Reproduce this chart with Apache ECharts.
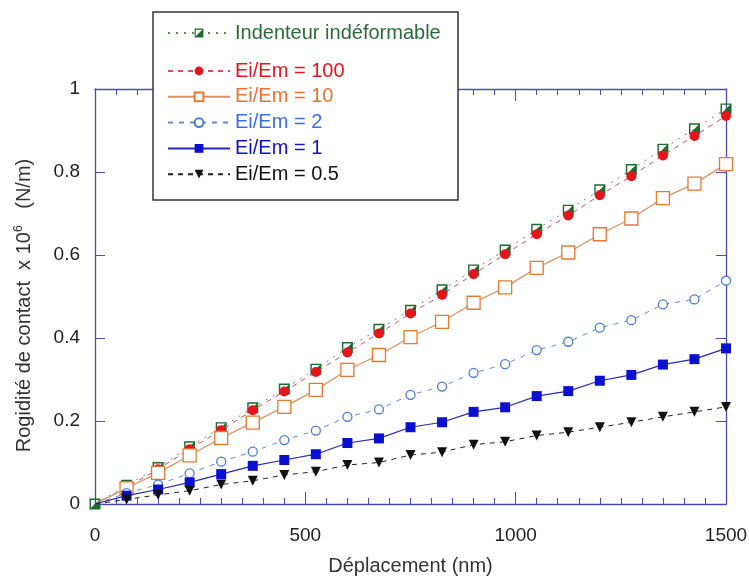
<!DOCTYPE html>
<html><head><meta charset="utf-8">
<script src="https://cdn.jsdelivr.net/npm/echarts@6/dist/echarts.min.js"></script>
<style>html,body{margin:0;padding:0;background:#fff}#c{width:749px;height:576px}</style>
</head><body><div id="c"></div>
<script>
const xValues = [0,75,150,225,300,375,450,525,600,675,750,825,900,975,1050,1125,1200,1275,1350,1425,1500];
const indenteur = [0,0.045,0.088,0.138,0.184,0.232,0.277,0.325,0.377,0.421,0.467,0.516,0.564,0.612,0.662,0.708,0.757,0.806,0.855,0.904,0.952];
const ratio100 = [0,0.040,0.084,0.132,0.178,0.226,0.271,0.318,0.365,0.411,0.459,0.504,0.554,0.602,0.650,0.695,0.744,0.790,0.840,0.887,0.935];
const ratio10 = [0,0.038,0.075,0.117,0.159,0.196,0.234,0.275,0.323,0.359,0.402,0.439,0.485,0.522,0.569,0.606,0.650,0.688,0.737,0.772,0.819];
const ratio2 = [0,0.026,0.047,0.074,0.102,0.126,0.154,0.177,0.210,0.228,0.263,0.283,0.316,0.337,0.371,0.391,0.425,0.443,0.481,0.493,0.538];
const ratio1 = [0,0.020,0.035,0.052,0.072,0.092,0.106,0.120,0.147,0.158,0.185,0.197,0.222,0.233,0.260,0.272,0.297,0.311,0.336,0.349,0.375];
const ratio05 = [0,0.011,0.022,0.032,0.047,0.056,0.070,0.078,0.094,0.100,0.118,0.125,0.143,0.150,0.165,0.173,0.185,0.197,0.210,0.222,0.234];
const names = ['Indenteur indéformable','Ei/Em = 100','Ei/Em = 10','Ei/Em = 2','Ei/Em = 1','Ei/Em = 0.5'];
const xTicks = [0,500,1000,1500];
const yTicks = [0,0.2,0.4,0.6,0.8,1];

const axisColor = '#4b4bb8';
const font = 'Liberation Sans, Arial, sans-serif';
const halfSquare = 'path://M0,0 L10,0 L10,10 L0,10 Z M1.3,1.3 L1.3,8.7 L8.7,8.7 L8.7,1.3 Z M8.7,1.3 L8.7,8.7 L1.3,8.7 Z';

function pts(arr, hideFirst){
  return xValues.map((x,i)=> (hideFirst && i===0) ? {value:[x,arr[i]], symbol:'none'} : [x,arr[i]]);
}
const defs = [
  {d:indenteur, color:'#1d6b2e', line:'#6a8a6a', type:[2,6], width:1, symbol:halfSquare, size:11, fill:'#1d6b2e', txt:'#2a6a3a'},
  {d:ratio100, color:'#e8141c', line:'#d05060', type:[5,5], width:1, symbol:'circle', size:10, fill:'#e8141c', txt:'#e8141c'},
  {d:ratio10, color:'#e87830', line:'#e09060', type:'solid', width:1.2, symbol:'rect', size:13, fill:'#fff', txt:'#f07030'},
  {d:ratio2, color:'#4a7ad8', line:'#6a8ac8', type:[5,6], width:1, symbol:'circle', size:9, fill:'#fff', txt:'#3a6cf0'},
  {d:ratio1, color:'#0a10d0', line:'#2828b0', type:'solid', width:1.2, symbol:'rect', size:10, fill:'#0a10d0', txt:'#1010c8'},
  {d:ratio05, color:'#111', line:'#222', type:[5,5], width:1, symbol:'triangle', size:10, fill:'#111', txt:'#111', rotate:180}
];
const series = defs.map((s,i)=>({
  name:names[i], type:'line', data:pts(s.d, i>0), symbol:s.symbol, symbolSize:s.size, symbolRotate:s.rotate||0,
  showAllSymbol:true, z:2+i,
  lineStyle:{color:s.line, type:s.type, width:s.width},
  itemStyle:{color:s.fill, borderColor:s.color, borderWidth:(s.fill==='#fff')?1.3:0}
}));

const chart = echarts.init(document.getElementById('c'), null, {renderer:'canvas'});
const axLine = {show:true, onZero:false, lineStyle:{color:axisColor, width:1.3}};
chart.setOption({
  animation:false,
  backgroundColor:'#fff',
  textStyle:{fontFamily:font},
  grid:{left:95, right:23, top:89, bottom:72, containLabel:false, outerBoundsMode:'none'},
  legend:[
    {data:[{name:names[0], textStyle:{color:defs[0].txt}}], left:162, top:18, z:20, orient:'vertical', itemWidth:62, itemHeight:11, itemGap:10,
     textStyle:{fontSize:20, fontFamily:font}},
    {data:names.slice(1).map((n,i)=>({name:n, textStyle:{color:defs[i+1].txt}})), left:162, top:56, z:20, orient:'vertical', itemWidth:62, itemHeight:11, itemGap:5.8,
     textStyle:{fontSize:20, fontFamily:font}}
  ],
  graphic:[{type:'rect', z:15, shape:{x:153, y:12, width:305, height:188}, style:{fill:'#fff', stroke:'#333', lineWidth:1.5}}],
  xAxis:[
    {type:'value', min:0, max:1500, interval:500, position:'bottom',
     name:'Déplacement (nm)', nameLocation:'middle', nameGap:52, nameTextStyle:{fontSize:20, color:'#333'},
     axisLine:axLine, axisTick:{inside:true, length:12, lineStyle:{color:axisColor}},
     minorTick:{show:true, splitNumber:10, length:6, lineStyle:{color:axisColor}},
     axisLabel:{fontSize:19, color:'#222', margin:22, formatter:v=>String(v)}, splitLine:{show:false}},
    {type:'value', min:0, max:1500, interval:500, position:'top', axisLine:axLine,
     axisTick:{inside:true, length:12, lineStyle:{color:axisColor}},
     minorTick:{show:true, splitNumber:10, length:6, lineStyle:{color:axisColor}},
     axisLabel:{show:false}, splitLine:{show:false}}
  ],
  yAxis:[
    {type:'value', min:0, max:1, interval:0.2, position:'left',
     name:'{a|Rogidité de contact  x 10}{s|6}{a|   (N/m)}', nameLocation:'middle', nameGap:60,
     nameTextStyle:{padding:[0,18,0,0], rich:{a:{fontSize:20, color:'#333', fontFamily:font}, s:{fontSize:12, color:'#333', fontFamily:font, verticalAlign:'top', padding:[0,0,10,0]}}},
     axisLine:axLine, axisTick:{inside:true, length:10, lineStyle:{color:axisColor}},
     axisLabel:{fontSize:19, color:'#222', margin:15, padding:[9,0,0,0], formatter:v=>String(+v.toFixed(1))}, splitLine:{show:false}},
    {type:'value', min:0, max:1, interval:0.2, position:'right', axisLine:axLine,
     axisTick:{inside:true, length:10, lineStyle:{color:axisColor}}, axisLabel:{show:false}, splitLine:{show:false}}
  ],
  series:series
});
</script></body></html>
